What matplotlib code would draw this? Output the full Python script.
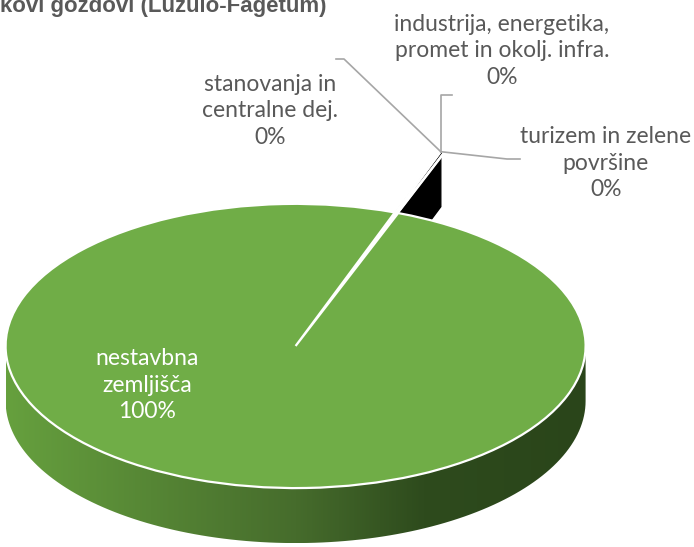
import numpy as np
import matplotlib
matplotlib.use("Agg")
from matplotlib import pyplot as plt
from matplotlib.path import Path
from matplotlib.colors import LinearSegmentedColormap

# podatki
kategorije = ["stanovanja in\ncentralne dej.",
              "industrija, energetika,\npromet in okolj. infra.",
              "turizem in zelene\npovršine",
              "nestavbna\nzemljišča"]
vrednosti = [0.0, 0.2, 0.0, 99.8]
barve = ["#ffffff", "#000000", "#ffffff", "#70ad47"]
naslov = "kovi gozdovi (Luzulo-Fagetum)"

W, H = 694, 547
tilt = 0.49          # sploscenje 3D torte
R = 290              # polmer
globina = 55         # debelina torte v pikslih
kot = 20             # zasuk prve rezine (od 12h v smeri urinega kazalca)
eks = 0.228 * R

def P(px, py):
    # piksli slike -> podatkovne koordinate
    return px, (H - py) / tilt

fig = plt.figure(figsize=(W / 100, H / 100), dpi=100)
ax = fig.add_axes([0, 0, 1, 1])

center = P(318.6, 315.6)
wedges, _ = ax.pie(vrednosti, colors=barve, radius=R, center=center,
                   startangle=90 - kot, counterclock=False,
                   explode=[eks] * len(vrednosti), frame=True,
                   wedgeprops=dict(edgecolor="white", linewidth=1.6))
ax.set_aspect("auto")
ax.set_xlim(0, W)
ax.set_ylim(0, H / tilt)
ax.axis("off")

d = globina / tilt
zel = wedges[3]
gx, gy = zel.center

# stranica zelene rezine z gradientom
t = np.linspace(np.pi, 2 * np.pi, 120)
pts = [(gx - R, gy)] + [(gx + R * np.cos(a), gy - d + R * np.sin(a)) for a in t] + [(gx + R, gy)]
clip = Path(pts + [pts[0]], closed=True)
cmap = LinearSegmentedColormap.from_list("side", [(0, "#66a03e"), (0.5, "#466c2c"),
                                                  (0.72, "#2e4b1d"), (1, "#2a451a")])
grad = np.linspace(0, 1, 256).reshape(1, -1)
im = ax.imshow(grad, cmap=cmap, aspect="auto", extent=(gx - R, gx + R, gy - d - R, gy),
               zorder=1)
im.set_clip_path(clip, transform=ax.transData)
for w in wedges:
    w.set_zorder(3)
zel.set_zorder(4)

# stena izvlecene majhne rezine
crna = wedges[1]
cx, cy = crna.center
th = np.deg2rad(crna.theta2)
ax_, ay_ = cx + R * np.cos(th), cy + R * np.sin(th)
ax.fill([cx, ax_, ax_, cx], [cy, ay_, ay_ - d, cy - d], color="black", zorder=2)
ax.plot([cx, ax_], [cy, ay_], color="white", lw=1.2, zorder=3)

# vodilne crte
lc = "#a6a6a6"
ax.plot([ax_, 344, 336], [ay_, P(0, 59)[1], P(0, 59)[1]], color=lc, lw=1.2, zorder=5)
ax.plot([ax_, ax_, 452], [ay_, P(0, 95)[1], P(0, 95)[1]], color=lc, lw=1.2, zorder=5)
ax.plot([ax_, 507, 520], [ay_, P(0, 159)[1], P(0, 159)[1]], color=lc, lw=1.2, zorder=5)

# oznake
font = ["Lato", "DejaVu Sans"]
poz = [(270, 111), (502, 51), (606, 163), (147, 385)]
for i, (k, v) in enumerate(zip(kategorije, vrednosti)):
    x, y = P(*poz[i])
    col = "white" if i == 3 else "#595959"
    ax.text(x, y, f"{k}\n{v:.0f}%", ha="center", va="center", fontsize=16.5,
            color=col, family=font, linespacing=1.3, zorder=6)

fig.text(0, 1 - 12 / H, naslov, ha="left", va="baseline", fontsize=16,
         fontweight="bold", color="#595959",
         family=["Liberation Sans Narrow", "Liberation Sans"])

fig.savefig("out.png", dpi=100)
